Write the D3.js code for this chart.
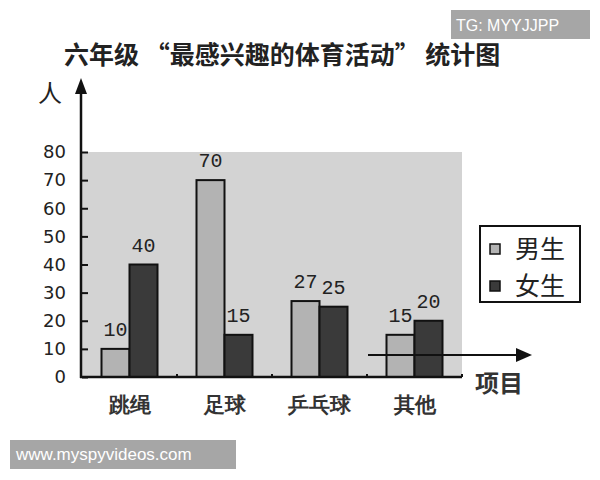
<!DOCTYPE html>
<html>
  <head>
    <meta http-equiv="Content-Type" content="text/html;charset=utf-8"/>
    <script src="https://cdn.jsdelivr.net/npm/d3@7"></script>
    <style>
      body { margin: 0; background: #fff; }
    </style>
  </head>
  <body>
    <script type="text/javascript">

var categories = ["跳绳", "足球", "乒乓球", "其他"];
var boys = [10, 70, 27, 15];
var girls = [40, 15, 25, 20];
var seriesNames = ["男生", "女生"];
var yTicks = [0, 10, 20, 30, 40, 50, 60, 70, 80];
var colors = ["#b3b3b3", "#3a3a3a"];

var w = 600, h = 480;
var pLeft = 82, pRight = 462, pTop = 152, pBottom = 377;

var svg = d3.select("body").append("svg")
  .attr("width", w)
  .attr("height", h)
  .style("font-family", "'Noto Sans CJK SC', sans-serif");

var x = d3.scaleBand().domain(categories).range([pLeft, pRight]);
var x1 = d3.scaleBand().domain([0, 1]).range([0, 56]);
var y = d3.scaleLinear().domain([0, 80]).range([pBottom, pTop]);

// plot background
svg.append("rect")
  .attr("x", pLeft).attr("y", pTop)
  .attr("width", pRight - pLeft).attr("height", pBottom - pTop)
  .attr("fill", "#d3d3d3");

// title
svg.append("text")
  .attr("x", 64).attr("y", 64)
  .attr("font-size", 25)
  .attr("fill", "#222")
  .attr("font-weight", "bold")
  .text("六年级 “最感兴趣的体育活动” 统计图");

// bars
var series = [boys, girls];
var groups = svg.selectAll("g.grp")
  .data(categories)
  .enter().append("g")
  .attr("class", "grp")
  .attr("transform", function(d) {
    return "translate(" + (x(d) + (x.bandwidth() - 56) / 2) + ",0)";
  });

series.forEach(function(vals, s) {
  groups.append("rect")
    .attr("x", x1(s))
    .attr("y", function(d, i) { return y(vals[i]); })
    .attr("width", x1.bandwidth())
    .attr("height", function(d, i) { return pBottom - y(vals[i]); })
    .attr("fill", colors[s])
    .attr("stroke", "#111")
    .attr("stroke-width", 2);
  groups.append("text")
    .attr("x", x1(s) + x1.bandwidth() / 2)
    .attr("y", function(d, i) { return y(vals[i]) - 13; })
    .attr("text-anchor", "middle")
    .attr("font-family", "'Liberation Mono', monospace")
    .attr("font-size", 20)
    .attr("fill", "#222")
    .text(function(d, i) { return vals[i]; });
});

// y axis
var yAxis = d3.axisLeft(y).tickValues(yTicks).tickSizeInner(-6).tickSizeOuter(0).tickPadding(16);
var ya = svg.append("g")
  .attr("transform", "translate(" + pLeft + ",0)")
  .call(yAxis);
ya.select(".domain").remove();
ya.selectAll(".tick line").attr("stroke", "#111").attr("stroke-width", 2);
ya.selectAll(".tick text")
  .attr("font-family", "'DejaVu Sans', sans-serif")
  .attr("font-size", 18)
  .attr("fill", "#222");

svg.append("line")
  .attr("x1", pLeft - 1).attr("x2", pLeft - 1)
  .attr("y1", pBottom + 1).attr("y2", 92)
  .attr("stroke", "#111").attr("stroke-width", 2.5);
svg.append("path")
  .attr("d", "M" + (pLeft - 1) + ",78 L" + (pLeft - 7) + ",94 L" + (pLeft + 5) + ",94 Z")
  .attr("fill", "#111");
svg.append("text")
  .attr("x", 50).attr("y", 102)
  .attr("text-anchor", "middle")
  .attr("font-size", 24)
  .attr("fill", "#222")
  .text("人");

// x axis
var xAxis = d3.axisBottom(x).tickSize(0).tickPadding(20);
var xa = svg.append("g")
  .attr("transform", "translate(0," + pBottom + ")")
  .call(xAxis);
xa.select(".domain").remove();
xa.selectAll(".tick text")
  .attr("font-size", 21)
  .attr("font-weight", "bold")
  .attr("fill", "#333");

svg.append("line")
  .attr("x1", pLeft - 2).attr("x2", pRight)
  .attr("y1", pBottom).attr("y2", pBottom)
  .attr("stroke", "#111").attr("stroke-width", 2.5);
svg.selectAll("line.sep")
  .data(categories)
  .enter().append("line")
  .attr("class", "sep")
  .attr("x1", function(d) { return x(d) + x.bandwidth(); })
  .attr("x2", function(d) { return x(d) + x.bandwidth(); })
  .attr("y1", pBottom - 3).attr("y2", pBottom)
  .attr("stroke", "#111").attr("stroke-width", 2);

// stray arrow over last group
svg.append("line")
  .attr("x1", 368).attr("x2", 520)
  .attr("y1", 355).attr("y2", 355)
  .attr("stroke", "#111").attr("stroke-width", 2);
svg.append("path")
  .attr("d", "M532,355 L516,348 L516,362 Z")
  .attr("fill", "#111");
svg.append("text")
  .attr("x", 499).attr("y", 392)
  .attr("text-anchor", "middle")
  .attr("font-size", 24)
  .attr("font-weight", "bold")
  .attr("fill", "#333")
  .text("项目");

// legend
svg.append("rect")
  .attr("x", 480).attr("y", 226)
  .attr("width", 100).attr("height", 76)
  .attr("fill", "#fff")
  .attr("stroke", "#111").attr("stroke-width", 2);
var lg = svg.selectAll("g.lg")
  .data(seriesNames)
  .enter().append("g")
  .attr("class", "lg")
  .attr("transform", function(d, i) { return "translate(490," + (249 + i * 37) + ")"; });
lg.append("rect")
  .attr("x", 0).attr("y", -5)
  .attr("width", 10).attr("height", 10)
  .attr("fill", function(d, i) { return colors[i]; })
  .attr("stroke", "#111").attr("stroke-width", 1.5);
lg.append("text")
  .attr("x", 25).attr("y", 9)
  .attr("font-size", 25)
  .attr("fill", "#222")
  .text(function(d) { return d; });

// watermarks
svg.append("rect")
  .attr("x", 451).attr("y", 10).attr("width", 139).attr("height", 29)
  .attr("fill", "#a6a6a6");
svg.append("text")
  .attr("x", 456).attr("y", 31)
  .attr("font-family", "'Liberation Sans', sans-serif")
  .attr("font-size", 16)
  .attr("fill", "#fff")
  .text("TG: MYYJJPP");
svg.append("rect")
  .attr("x", 10).attr("y", 440).attr("width", 226).attr("height", 29)
  .attr("fill", "#a6a6a6");
svg.append("text")
  .attr("x", 16).attr("y", 460)
  .attr("font-family", "'Liberation Sans', sans-serif")
  .attr("font-size", 17)
  .attr("fill", "#fff")
  .text("www.myspyvideos.com");

    </script>
  </body>
</html>
